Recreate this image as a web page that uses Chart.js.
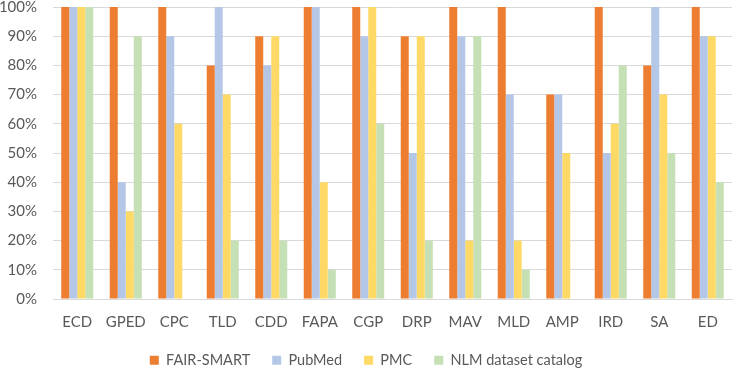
<!DOCTYPE html>
<html>
<head>
<meta charset="utf-8">
<script src="https://cdn.jsdelivr.net/npm/chart.js@4"></script>
<style>
  html, body { margin: 0; padding: 0; background: #fff; }
  #wrap { width: 733px; height: 368px; }
</style>
</head>
<body>
<div id="wrap"><canvas id="myChart" width="733" height="368"></canvas></div>
<script>
// categories
var labels = ['ECD', 'GPED', 'CPC', 'TLD', 'CDD', 'FAPA', 'CGP', 'DRP', 'MAV', 'MLD', 'AMP', 'IRD', 'SA', 'ED'];

// series values (%)
var fairSmart = [100, 100, 100, 80, 90, 100, 100, 90, 100, 100, 70, 100, 80, 100];
var pubMed    = [100, 40, 90, 100, 80, 100, 90, 50, 90, 70, 70, 50, 100, 90];
var pmc       = [100, 30, 60, 70, 90, 40, 100, 90, 20, 20, 50, 60, 70, 90];
var nlm       = [100, 90, 0, 20, 20, 10, 60, 20, 90, 10, 0, 80, 50, 40];

// y tick values
var yTicks = [0, 10, 20, 30, 40, 50, 60, 70, 80, 90, 100];

var font = "Lato, 'Open Sans', sans-serif";
var textColor = '#595959';

// legend: wide gaps between items but a short row height
var legendPad = 22;
var legendHeight = 37;
var legendTopGap = 22;
var legendRow = {
  id: 'legendRow',
  afterInit: function (chart) {
    var legend = chart.legend;
    var fit = legend.fit;
    legend.fit = function () {
      fit.call(this);
      this.height = legendHeight;
    };
  },
  afterLayout: function (chart) {
    var legend = chart.legend;
    legend.top += legendTopGap - legendPad;
    legend.bottom = legend.top + legend.height;
  }
};

var ctx = document.getElementById('myChart');
var myChart = new Chart(ctx, {
  type: 'bar',
  data: {
    labels: labels,
    datasets: [
      { label: 'FAIR-SMART', data: fairSmart, backgroundColor: '#ED7D31' },
      { label: 'PubMed', data: pubMed, backgroundColor: '#B4C7E7' },
      { label: 'PMC', data: pmc, backgroundColor: '#FFD966' },
      { label: 'NLM dataset catalog', data: nlm, backgroundColor: '#C5E0B4' }
    ]
  },
  plugins: [legendRow],
  options: {
    responsive: false,
    animation: false,
    datasets: {
      bar: { barPercentage: 1.0, categoryPercentage: 0.66 }
    },
    layout: { padding: { top: 7, right: 1, bottom: 0, left: 0 } },
    plugins: {
      tooltip: { enabled: false },
      legend: {
        position: 'bottom',
        labels: {
          color: textColor,
          font: { family: font, size: 14.5 },
          boxWidth: 9,
          boxHeight: 9,
          padding: legendPad
        }
      }
    },
    scales: {
      x: {
        afterFit: function (scale) { scale.height = 32; },
        grid: { display: false, drawTicks: false },
        border: { color: '#d9d9d9' },
        ticks: {
          color: textColor,
          font: { family: font, size: 15 },
          padding: 14,
          maxRotation: 0
        }
      },
      y: {
        min: 0,
        max: 100,
        afterBuildTicks: function (scale) {
          scale.ticks = yTicks.map(function (v) { return { value: v }; });
        },
        afterFit: function (scale) {
          scale.width = 53;
          scale.paddingTop = 0;
          scale.paddingBottom = 0;
        },
        grid: { color: '#d9d9d9', drawTicks: false },
        border: { display: false },
        ticks: {
          color: textColor,
          font: { family: font, size: 15 },
          padding: 16,
          callback: function (v) { return v + '%'; }
        }
      }
    }
  }
});
</script>
</body>
</html>
